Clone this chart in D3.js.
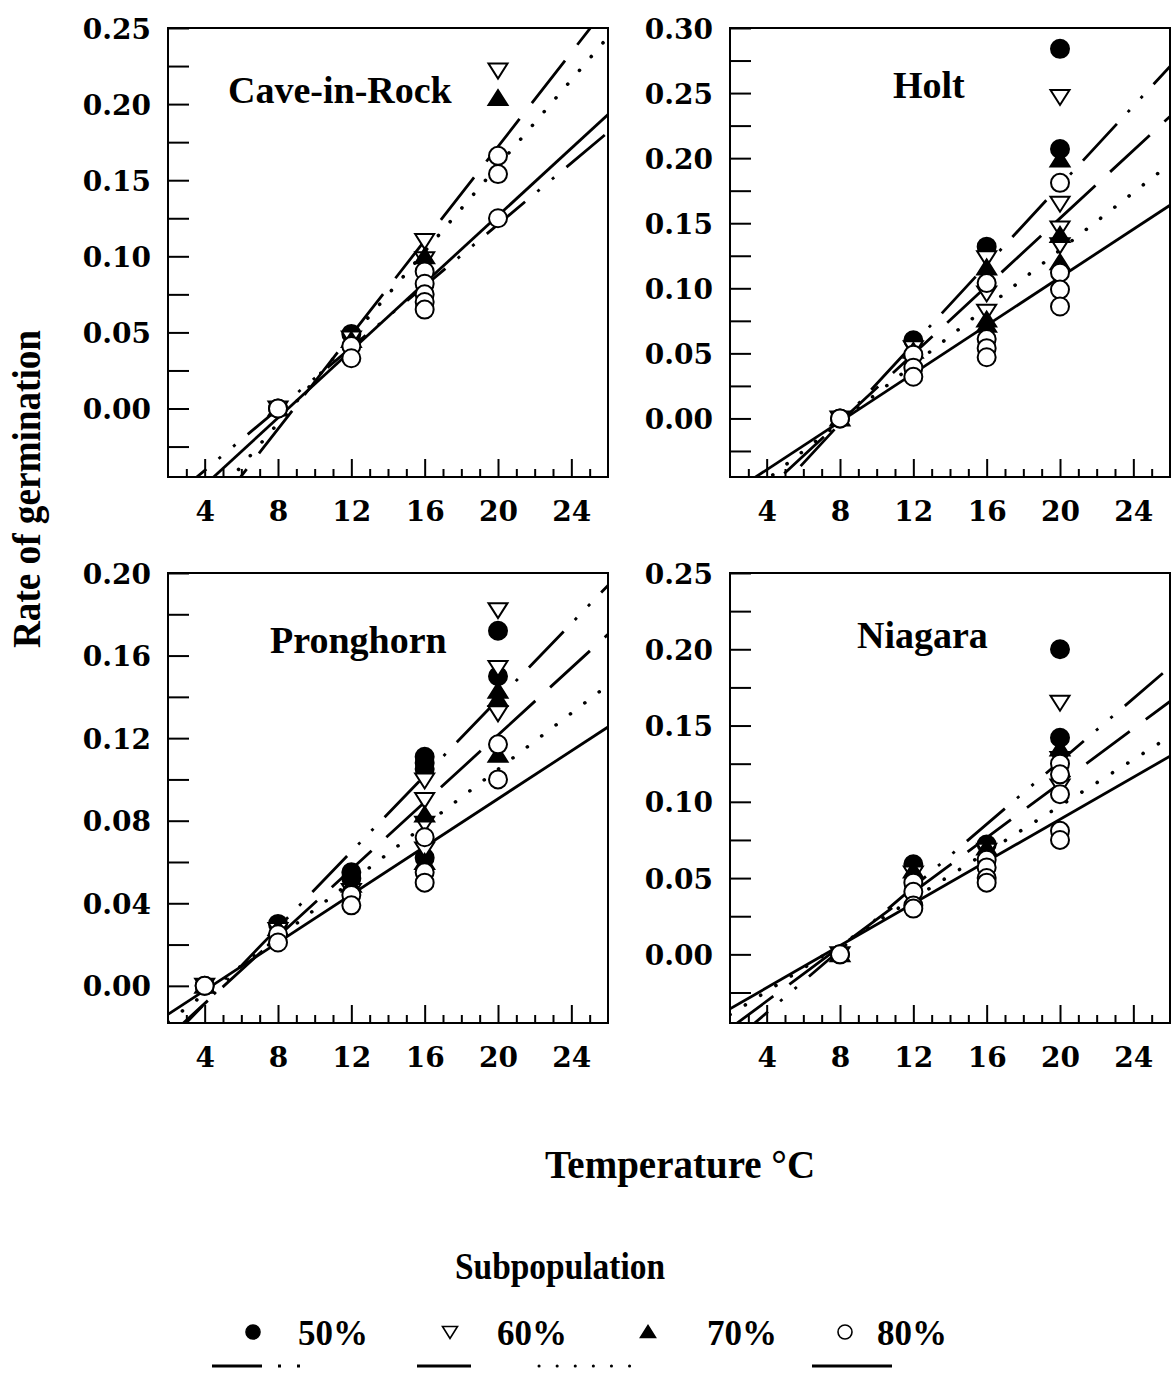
<!DOCTYPE html>
<html>
<head>
<meta charset="utf-8">
<script src="https://cdn.jsdelivr.net/npm/d3@7"></script>
<style>
  body { margin: 0; background: #fff; }
  svg { display: block; }
</style>
</head>
<body>
<svg id="chart" width="1175" height="1374"></svg>
<script>
// Rate of germination vs. temperature for four subpopulations in four cultivars.
const subpops = ["50%", "60%", "70%", "80%"];
const tempDomain = [2, 26];
const tempLabels = [4, 8, 12, 16, 20, 24];

// Cave-in-Rock: [temperature, rate]
const caveTicks = [0.00, 0.05, 0.10, 0.15, 0.20, 0.25];
const caveDomain = [-0.045, 0.25];
const cave50 = [[8, 0.000], [12, 0.049]];
const cave60 = [[8, 0.000], [12, 0.046], [16, 0.110], [16, 0.098], [20, 0.222]];
const cave70 = [[8, 0.000], [12, 0.045], [16, 0.100], [20, 0.204]];
const cave80 = [[8, 0.000], [12, 0.041], [12, 0.033], [16, 0.090], [16, 0.082], [16, 0.075],
                [16, 0.070], [16, 0.065], [20, 0.166], [20, 0.154], [20, 0.125]];
const caveSlopes = [0.0101, 0.01546, 0.0141, 0.01107];
const caveIntercepts = [-0.0811, -0.1371, -0.1225, -0.0947];

// Holt
const holtTicks = [0.00, 0.05, 0.10, 0.15, 0.20, 0.25, 0.30];
const holtDomain = [-0.045, 0.30];
const holt50 = [[8, 0.000], [12, 0.060], [16, 0.132], [20, 0.284], [20, 0.207]];
const holt60 = [[8, 0.000], [12, 0.054], [16, 0.123], [16, 0.096], [16, 0.082],
                [20, 0.247], [20, 0.165], [20, 0.146], [20, 0.133]];
const holt70 = [[8, 0.000], [12, 0.052], [16, 0.116], [16, 0.076], [16, 0.072],
                [20, 0.199], [20, 0.141], [20, 0.120]];
const holt80 = [[8, 0.000], [12, 0.049], [12, 0.039], [12, 0.032], [16, 0.104], [16, 0.061],
                [16, 0.054], [16, 0.047], [20, 0.181], [20, 0.112], [20, 0.099], [20, 0.086]];
const holtSlopes = [0.01524, 0.01304, 0.01103, 0.00924];
const holtIntercepts = [-0.1258, -0.1070, -0.0912, -0.0764];

// Pronghorn
const prongTicks = [0.00, 0.04, 0.08, 0.12, 0.16, 0.20];
const prongDomain = [-0.018, 0.20];
const prong50 = [[4, 0.000], [8, 0.030], [12, 0.055], [12, 0.052], [16, 0.111], [16, 0.108],
                 [16, 0.105], [16, 0.062], [20, 0.172], [20, 0.150]];
const prong60 = [[4, 0.000], [8, 0.027], [12, 0.046], [16, 0.0995], [16, 0.090], [16, 0.0785],
                 [16, 0.066], [20, 0.182], [20, 0.154], [20, 0.132]];
const prong70 = [[4, 0.000], [8, 0.028], [12, 0.049], [16, 0.083], [16, 0.060],
                 [20, 0.143], [20, 0.139], [20, 0.112]];
const prong80 = [[4, 0.000], [8, 0.025], [8, 0.021], [12, 0.044], [12, 0.039], [16, 0.072],
                 [16, 0.055], [16, 0.050], [20, 0.117], [20, 0.100]];
const prongSlopes = [0.00921, 0.00813, 0.0068, 0.0058];
const prongIntercepts = [-0.0455, -0.0411, -0.0311, -0.0254];

// Niagara
const niagTicks = [0.00, 0.05, 0.10, 0.15, 0.20, 0.25];
const niagDomain = [-0.045, 0.25];
const niag50 = [[8, 0.000], [12, 0.059], [16, 0.072], [20, 0.200], [20, 0.142]];
const niag60 = [[8, 0.000], [12, 0.053], [16, 0.068], [20, 0.165], [20, 0.128], [20, 0.110]];
const niag70 = [[8, 0.000], [12, 0.055], [16, 0.070], [20, 0.135]];
const niag80 = [[8, 0.000], [12, 0.047], [12, 0.041], [12, 0.032], [12, 0.030], [16, 0.062],
                [16, 0.057], [16, 0.050], [16, 0.047], [20, 0.125], [20, 0.118], [20, 0.105],
                [20, 0.081], [20, 0.075]];
const niagSlopes = [0.0103, 0.00893, 0.0076, 0.0069];
const niagIntercepts = [-0.0795, -0.0664, -0.0547, -0.0495];

// Page layout for the four panels
const panels = [
  { name: "Cave-in-Rock", ticks: caveTicks, domain: caveDomain, minor: 0.025,
    series: [cave50, cave60, cave70, cave80], slopes: caveSlopes, intercepts: caveIntercepts,
    box: [168, 28, 608, 477], title: [60, 75] },
  { name: "Holt", ticks: holtTicks, domain: holtDomain, minor: 0.025,
    series: [holt50, holt60, holt70, holt80], slopes: holtSlopes, intercepts: holtIntercepts,
    box: [730, 28, 1170, 477], title: [163, 70] },
  { name: "Pronghorn", ticks: prongTicks, domain: prongDomain, minor: 0.02,
    series: [prong50, prong60, prong70, prong80], slopes: prongSlopes, intercepts: prongIntercepts,
    box: [168, 573, 608, 1023], title: [102, 80] },
  { name: "Niagara", ticks: niagTicks, domain: niagDomain, minor: 0.025,
    series: [niag50, niag60, niag70, niag80], slopes: niagSlopes, intercepts: niagIntercepts,
    box: [730, 573, 1170, 1023], title: [127, 75] }
];

// Line style for each subpopulation fit: dash-dot-dot, dashed, dotted, solid
const lineStyles = [
  { dash: "50,16,3,16,3,16", cap: "butt", width: 2.8 },
  { dash: "54,20", cap: "butt", width: 2.8 },
  { dash: "0.1,18", cap: "round", width: 3.6 },
  { dash: null, cap: "butt", width: 2.8 }
];

const serifBold = "'Liberation Serif', 'Times New Roman', serif";
const tickFont = "'DejaVu Serif', serif";

const svg = d3.select("#chart");

// Marker paths
function markerPath(kind) {
  if (kind === 0 || kind === 3) {
    return d3.symbol().type(d3.symbolCircle).size(Math.PI * 9 * 9)();
  }
  if (kind === 1) return "M-9.5,-7L9.5,-7L0,8Z";
  return "M-9.5,7L9.5,7L0,-8Z";
}
function markerFill(kind) { return (kind === 0 || kind === 2) ? "#000" : "#fff"; }

panels.forEach((p, pi) => {
  const [x0, y0, x1, y1] = p.box;
  const x = d3.scaleLinear().domain(tempDomain).range([x0, x1]);
  const y = d3.scaleLinear().domain(p.domain).range([y1, y0]);
  const g = svg.append("g");

  const clipId = "clip" + pi;
  svg.append("clipPath").attr("id", clipId)
    .append("rect").attr("x", x0).attr("y", y0).attr("width", x1 - x0).attr("height", y1 - y0);

  // y tick marks every minor step, pointing inward
  const nMinor = Math.floor((p.domain[1] + 1e-9) / p.minor);
  const yMinor = d3.range(0, nMinor + 1).map(i => +(i * p.minor).toFixed(4))
    .concat(d3.range(1, Math.floor(-p.domain[0] / p.minor + 1e-9) + 1).map(i => -i * p.minor));
  g.append("g").attr("transform", `translate(${x0},0)`)
    .call(d3.axisLeft(y).tickValues(yMinor).tickSize(-21).tickFormat(""))
    .call(a => a.select(".domain").remove())
    .call(a => a.selectAll("line").attr("stroke-width", 2));

  // y tick labels
  g.append("g").attr("transform", `translate(${x0},0)`)
    .call(d3.axisLeft(y).tickValues(p.ticks).tickSize(0).tickPadding(17).tickFormat(d3.format(".2f")))
    .call(a => a.select(".domain").remove())
    .call(a => a.selectAll("text")
      .attr("font-family", tickFont).attr("font-weight", "bold")
      .attr("font-size", 28).attr("fill", "#000").attr("dy", "0.36em"));

  // x tick marks: minor every degree, major every 4 degrees
  const xMinor = d3.range(3, 26).filter(t => t % 4 !== 0);
  g.append("g").attr("transform", `translate(0,${y1})`)
    .call(d3.axisBottom(x).tickValues(xMinor).tickSize(-8).tickFormat(""))
    .call(a => a.select(".domain").remove())
    .call(a => a.selectAll("line").attr("stroke-width", 2));
  g.append("g").attr("transform", `translate(0,${y1})`)
    .call(d3.axisBottom(x).tickValues(tempLabels).tickSize(-18).tickPadding(24).tickFormat(d3.format("d")))
    .call(a => a.select(".domain").remove())
    .call(a => a.selectAll("line").attr("stroke-width", 2))
    .call(a => a.selectAll("text")
      .attr("font-family", tickFont).attr("font-weight", "bold")
      .attr("font-size", 28).attr("fill", "#000"));

  // fitted lines
  const lg = g.append("g").attr("clip-path", `url(#${clipId})`);
  p.slopes.forEach((b, si) => {
    const a = p.intercepts[si];
    const ends = tempDomain.map(t => [t, a + b * t]);
    lg.append("path")
      .attr("d", d3.line().x(d => x(d[0])).y(d => y(d[1]))(ends))
      .attr("fill", "none").attr("stroke", "#000").attr("stroke-width", lineStyles[si].width)
      .attr("stroke-dasharray", lineStyles[si].dash)
      .attr("stroke-linecap", lineStyles[si].cap);
  });

  // points
  const mg = g.append("g");
  p.series.forEach((pts, si) => {
    mg.selectAll(null).data(pts).join("path")
      .attr("transform", d => `translate(${x(d[0])},${y(d[1])})`)
      .attr("d", markerPath(si))
      .attr("fill", markerFill(si))
      .attr("stroke", "#000").attr("stroke-width", 2);
  });

  // frame
  g.append("rect").attr("x", x0).attr("y", y0).attr("width", x1 - x0).attr("height", y1 - y0)
    .attr("fill", "none").attr("stroke", "#000").attr("stroke-width", 2);

  // cultivar name
  g.append("text").attr("x", x0 + p.title[0]).attr("y", y0 + p.title[1])
    .attr("font-family", serifBold).attr("font-weight", "bold").attr("font-size", 38)
    .text(p.name);
});

// Axis titles
svg.append("text")
  .attr("transform", "translate(40,489) rotate(-90)")
  .attr("text-anchor", "middle")
  .attr("font-family", serifBold).attr("font-weight", "bold").attr("font-size", 40)
  .attr("textLength", 318).attr("lengthAdjust", "spacingAndGlyphs")
  .text("Rate of germination");

svg.append("text")
  .attr("x", 680).attr("y", 1178).attr("text-anchor", "middle")
  .attr("font-family", serifBold).attr("font-weight", "bold").attr("font-size", 39)
  .text("Temperature \u00B0C");

// Legend
svg.append("text")
  .attr("x", 560).attr("y", 1279).attr("text-anchor", "middle")
  .attr("font-family", serifBold).attr("font-weight", "bold").attr("font-size", 37)
  .attr("textLength", 210).attr("lengthAdjust", "spacingAndGlyphs")
  .text("Subpopulation");

const legendSymbolX = [253, 450, 648, 845];
const legendTextX = [298, 497, 707, 877];
const legendSymbol = [
  d3.symbol().type(d3.symbolCircle).size(Math.PI * 7 * 7)(),
  "M-7.5,-5.5L7.5,-5.5L0,6.5Z",
  "M-7.5,5.5L7.5,5.5L0,-6.5Z",
  d3.symbol().type(d3.symbolCircle).size(Math.PI * 7 * 7)()
];
subpops.forEach((s, i) => {
  svg.append("path").attr("transform", `translate(${legendSymbolX[i]},1332)`)
    .attr("d", legendSymbol[i]).attr("fill", markerFill(i))
    .attr("stroke", "#000").attr("stroke-width", 1.6);
  svg.append("text").attr("x", legendTextX[i]).attr("y", 1345)
    .attr("font-family", serifBold).attr("font-weight", "bold").attr("font-size", 36)
    .attr("textLength", 70).attr("lengthAdjust", "spacingAndGlyphs")
    .text(s);
});

// Line-style key row
const keyX = [[212, 305], [417, 490], [539, 632], [812, 892]];
subpops.forEach((s, i) => {
  svg.append("line")
    .attr("x1", keyX[i][0]).attr("x2", keyX[i][1])
    .attr("y1", 1366).attr("y2", 1366)
    .attr("stroke", "#000").attr("stroke-width", 3)
    .attr("stroke-dasharray", lineStyles[i].dash)
    .attr("stroke-linecap", lineStyles[i].cap);
});
</script>
</body>
</html>
